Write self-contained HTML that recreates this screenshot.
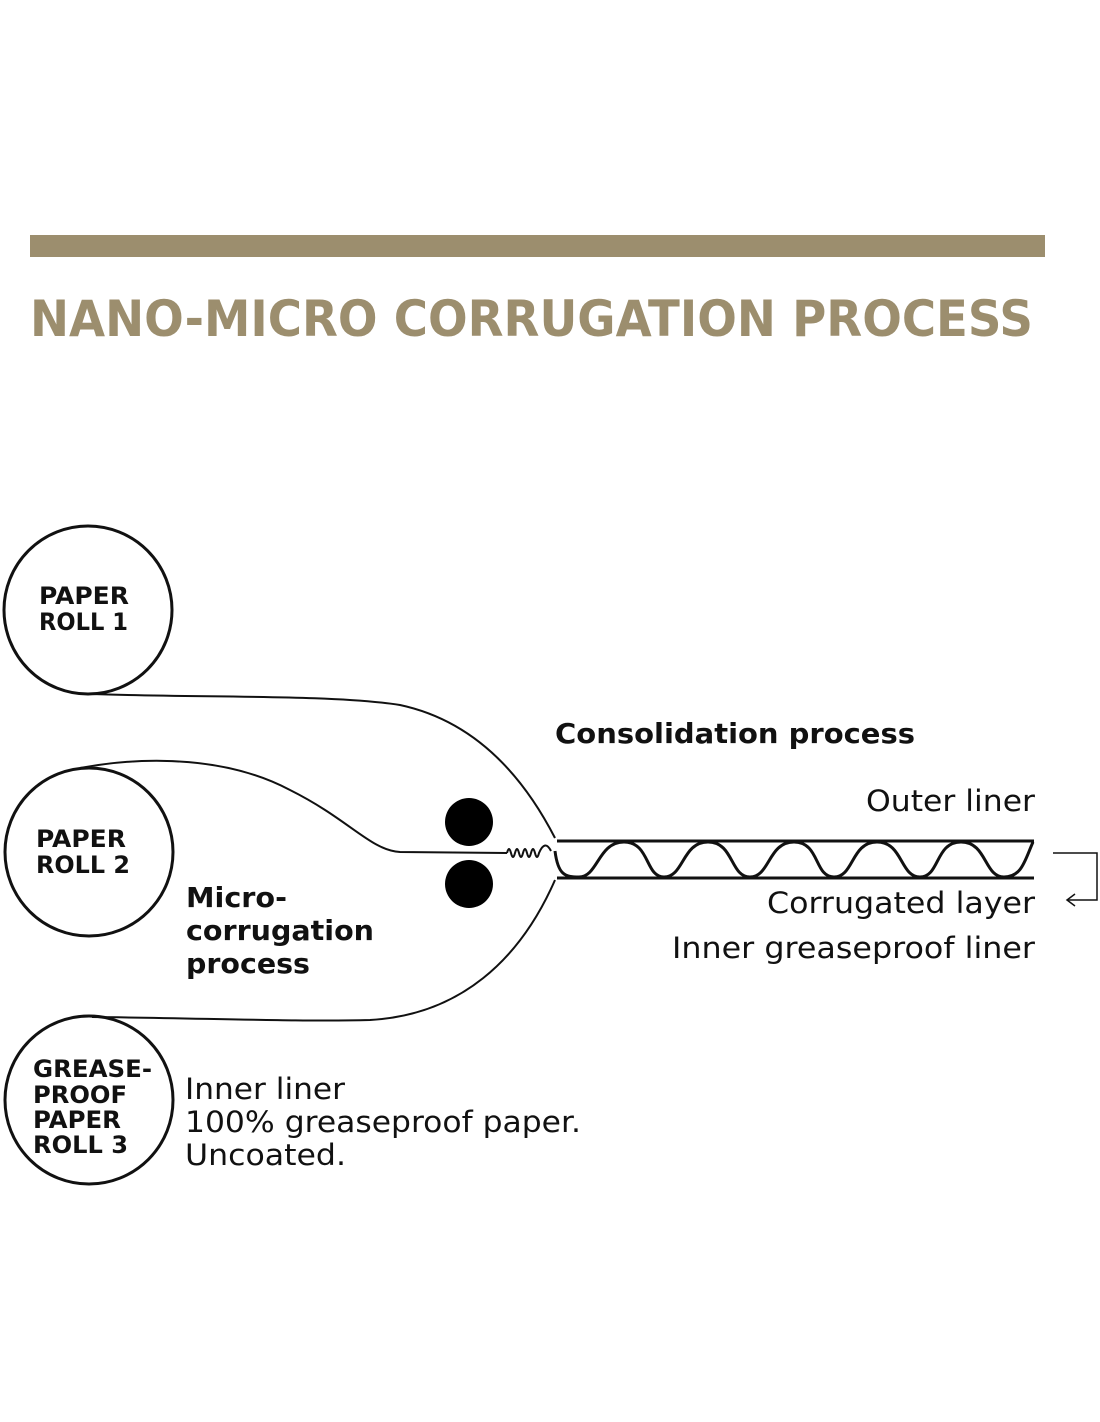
<!DOCTYPE html>
<html><head><meta charset="utf-8"><style>
html,body{margin:0;padding:0;background:#fff;}
svg{display:block;}
text{font-family:"DejaVu Sans","Liberation Sans",sans-serif;fill:#111;}
</style></head><body>
<svg width="1100" height="1422" viewBox="0 0 1100 1422" xmlns="http://www.w3.org/2000/svg">
<rect x="30" y="235" width="1015" height="22" fill="#9c8e6e"/>
<text x="30" y="336" font-size="50" font-weight="bold" style="fill:#9c8e6e" textLength="1003" lengthAdjust="spacingAndGlyphs">NANO-MICRO CORRUGATION PROCESS</text>

<g fill="none" stroke="#111" stroke-width="3">
<circle cx="88" cy="610" r="84"/>
<circle cx="89" cy="852" r="84"/>
<circle cx="89" cy="1100" r="84"/>
</g>
<g fill="none" stroke="#111" stroke-width="2">
<path d="M92 694 C200 698 330 694 400 705 C470 720 520 770 555 838"/>
<path d="M80 768 C150 755 230 758 290 790 C350 820 370 850 400 852 L507 853"/>
<path d="M92 1017 C200 1018 300 1022 370 1020 C460 1015 520 960 555 880"/>
<path d="M507 853 q2 -8 4 0 q2 8 4 0 q2 -8 4 0 q2 8 4 0 q2 -8 4 0 q2 8 4 0 q2 -8 4 0 q2 8 4 0 q6 -14 12 -2"/>
</g>
<circle cx="469" cy="822" r="24" fill="#000"/>
<circle cx="469" cy="884" r="24" fill="#000"/>
<g fill="none" stroke="#111" stroke-width="3">
<line x1="557" y1="841" x2="1034" y2="841"/>
<line x1="557" y1="878" x2="1034" y2="878"/>
<path d="M555 851 C558 875 565 877 579 877 C598 877 598 842 624 842 C650 842 645 877 664 877 C684 877 682 842 708 842 C734 842 730 877 750 877 C770 877 768 842 794 842 C820 842 814 877 834 877 C854 877 851 842 877 842 C903 842 900 877 920 877 C940 877 935 842 961 842 C987 842 984 877 1004 877 C1022 877 1025 860 1033 842"/>
</g>
<g fill="none" stroke="#111" stroke-width="1.5">
<path d="M1053 853 H1097 V900 H1068"/>
<path d="M1075 894 L1067 900 L1075 906"/>
</g>

<g font-size="24" font-weight="600">
<text x="39" y="604" textLength="90" lengthAdjust="spacingAndGlyphs">PAPER</text>
<text x="39" y="630" textLength="89" lengthAdjust="spacingAndGlyphs">ROLL 1</text>
<text x="36" y="847" textLength="90" lengthAdjust="spacingAndGlyphs">PAPER</text>
<text x="36" y="873" textLength="94" lengthAdjust="spacingAndGlyphs">ROLL 2</text>
<text x="33" y="1077" textLength="119" lengthAdjust="spacingAndGlyphs">GREASE-</text>
<text x="33" y="1103" textLength="94" lengthAdjust="spacingAndGlyphs">PROOF</text>
<text x="33" y="1128" textLength="88" lengthAdjust="spacingAndGlyphs">PAPER</text>
<text x="33" y="1153" textLength="95" lengthAdjust="spacingAndGlyphs">ROLL 3</text>
</g>
<g font-size="28" font-weight="bold">
<text x="186" y="907" textLength="101" lengthAdjust="spacingAndGlyphs">Micro-</text>
<text x="186" y="940" textLength="188" lengthAdjust="spacingAndGlyphs">corrugation</text>
<text x="186" y="973" textLength="124" lengthAdjust="spacingAndGlyphs">process</text>
<text x="555" y="743" textLength="360" lengthAdjust="spacingAndGlyphs">Consolidation process</text>
</g>
<g font-size="29">
<text x="866" y="811" textLength="169" lengthAdjust="spacingAndGlyphs">Outer liner</text>
<text x="767" y="913" textLength="268" lengthAdjust="spacingAndGlyphs">Corrugated layer</text>
<text x="672" y="958" textLength="363" lengthAdjust="spacingAndGlyphs">Inner greaseproof liner</text>
<text x="185" y="1099" textLength="160" lengthAdjust="spacingAndGlyphs">Inner liner</text>
<text x="185" y="1132" textLength="396" lengthAdjust="spacingAndGlyphs">100% greaseproof paper.</text>
<text x="185" y="1165" textLength="161" lengthAdjust="spacingAndGlyphs">Uncoated.</text>
</g>
</svg>
</body></html>
